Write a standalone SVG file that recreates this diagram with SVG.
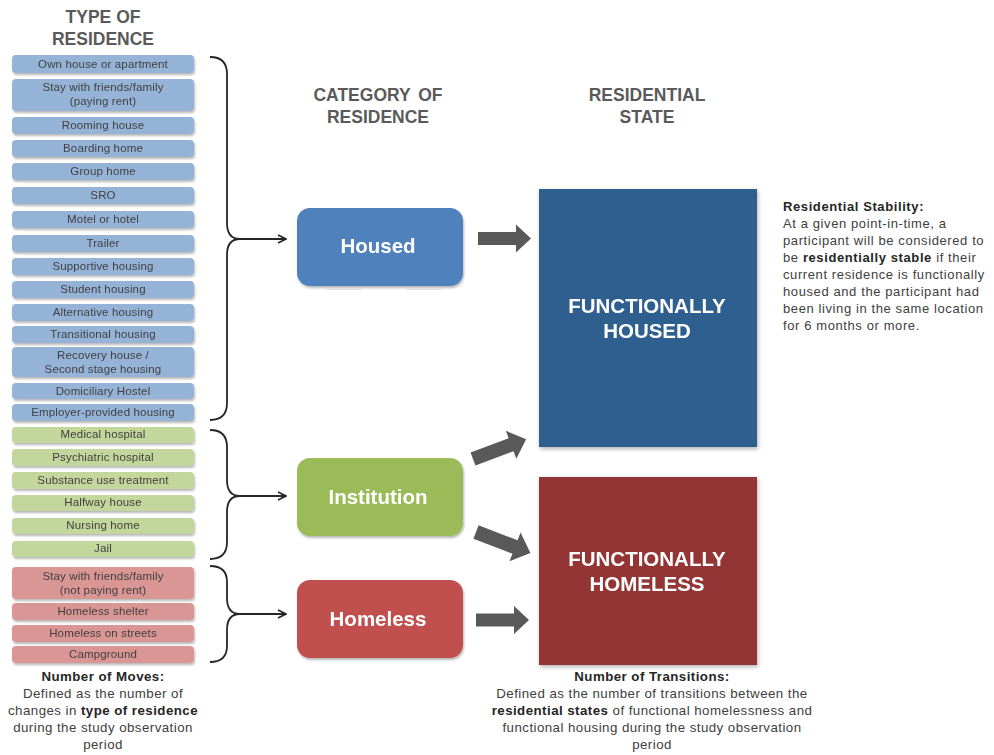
<svg xmlns="http://www.w3.org/2000/svg" width="994" height="755" viewBox="0 0 994 755">
  <style>
    .hdr { font-family: "Liberation Sans", Arial, sans-serif; font-size: 17.5px; font-weight: bold; fill: #5a5a5a; text-anchor: middle; }
    .item { font-family: "Liberation Sans", Arial, sans-serif; font-size: 11.5px; letter-spacing: 0.15px; fill: #3f3f3f; text-anchor: middle; }
    .blue { fill: #95b3d7; }
    .green { fill: #c3d69b; }
    .red { fill: #d99694; }
    .cat { font-family: "Liberation Sans", Arial, sans-serif; font-size: 20.5px; font-weight: bold; fill: #ffffff; text-anchor: middle; }
    .note { font-family: "Liberation Sans", Arial, sans-serif; font-size: 13.3px; letter-spacing: 0.45px; fill: #404040; }
    .b { font-weight: bold; fill: #262626; }
    .side { font-family: "Liberation Sans", Arial, sans-serif; font-size: 13px; letter-spacing: 0.6px; fill: #404040; }
    .brace { fill: none; stroke: #262626; stroke-width: 1.8; }
    .fat { fill: #595959; }
  </style>
  <defs>
    <filter id="sh" x="-10%" y="-10%" width="130%" height="140%">
      <feDropShadow dx="1" dy="2" stdDeviation="1.2" flood-color="#000" flood-opacity="0.28"/>
    </filter>
    <filter id="shBig" x="-10%" y="-10%" width="130%" height="130%">
      <feDropShadow dx="1" dy="2" stdDeviation="2" flood-color="#000" flood-opacity="0.3"/>
    </filter>
    <marker id="open" viewBox="0 0 10 10" refX="9" refY="5" markerWidth="10" markerHeight="10" markerUnits="userSpaceOnUse" orient="auto">
      <path d="M1,1 L9,5 L1,9" fill="none" stroke="#262626" stroke-width="1.6"/>
    </marker>
    <path id="fatArrow" d="M0,-6.5 L38,-6.5 L38,-14 L53,0 L38,14 L38,6.5 L0,6.5 Z"/>
  </defs>

  <rect width="994" height="755" fill="#ffffff"/>

  <!-- column headings -->
  <text class="hdr" x="103" y="23">TYPE OF</text>
  <text class="hdr" x="103" y="45">RESIDENCE</text>
  <text class="hdr" x="378" y="101" word-spacing="3">CATEGORY OF</text>
  <text class="hdr" x="378" y="123">RESIDENCE</text>
  <text class="hdr" x="647" y="101">RESIDENTIAL</text>
  <text class="hdr" x="647" y="123">STATE</text>

  <!-- types of residence -->
  <g id="types" filter="url(#sh)">
    <g id="t-own"><rect class="blue" x="12" y="55" width="182" height="18" rx="4"/><text class="item" x="103" y="68">Own house or apartment</text></g>
    <g id="t-friends-paying"><rect class="blue" x="12" y="79" width="182" height="32" rx="4"/><text class="item" x="103" y="91">Stay with friends/family</text><text class="item" x="103" y="105">(paying rent)</text></g>
    <g id="t-rooming"><rect class="blue" x="12" y="117" width="182" height="17" rx="4"/><text class="item" x="103" y="129">Rooming house</text></g>
    <g id="t-boarding"><rect class="blue" x="12" y="140" width="182" height="17" rx="4"/><text class="item" x="103" y="152">Boarding home</text></g>
    <g id="t-group"><rect class="blue" x="12" y="163" width="182" height="17" rx="4"/><text class="item" x="103" y="175">Group home</text></g>
    <g id="t-sro"><rect class="blue" x="12" y="187" width="182" height="17" rx="4"/><text class="item" x="103" y="199">SRO</text></g>
    <g id="t-motel"><rect class="blue" x="12" y="211" width="182" height="17" rx="4"/><text class="item" x="103" y="223">Motel or hotel</text></g>
    <g id="t-trailer"><rect class="blue" x="12" y="235" width="182" height="17" rx="4"/><text class="item" x="103" y="247">Trailer</text></g>
    <g id="t-supportive"><rect class="blue" x="12" y="258" width="182" height="17" rx="4"/><text class="item" x="103" y="270">Supportive housing</text></g>
    <g id="t-student"><rect class="blue" x="12" y="281" width="182" height="17" rx="4"/><text class="item" x="103" y="293">Student housing</text></g>
    <g id="t-alternative"><rect class="blue" x="12" y="304" width="182" height="17" rx="4"/><text class="item" x="103" y="316">Alternative housing</text></g>
    <g id="t-transitional"><rect class="blue" x="12" y="326" width="182" height="17" rx="4"/><text class="item" x="103" y="338">Transitional housing</text></g>
    <g id="t-recovery"><rect class="blue" x="12" y="347" width="182" height="30" rx="4"/><text class="item" x="103" y="359">Recovery house /</text><text class="item" x="103" y="373">Second stage housing</text></g>
    <g id="t-domiciliary"><rect class="blue" x="12" y="383" width="182" height="16" rx="4"/><text class="item" x="103" y="395">Domiciliary Hostel</text></g>
    <g id="t-employer"><rect class="blue" x="12" y="404" width="182" height="17" rx="4"/><text class="item" x="103" y="416">Employer-provided housing</text></g>

    <g id="t-medical"><rect class="green" x="12" y="427" width="182" height="16" rx="4"/><text class="item" x="103" y="438">Medical hospital</text></g>
    <g id="t-psychiatric"><rect class="green" x="12" y="449" width="182" height="17" rx="4"/><text class="item" x="103" y="461">Psychiatric hospital</text></g>
    <g id="t-substance"><rect class="green" x="12" y="472" width="182" height="17" rx="4"/><text class="item" x="103" y="484">Substance use treatment</text></g>
    <g id="t-halfway"><rect class="green" x="12" y="495" width="182" height="16" rx="4"/><text class="item" x="103" y="506">Halfway house</text></g>
    <g id="t-nursing"><rect class="green" x="12" y="518" width="182" height="16" rx="4"/><text class="item" x="103" y="529">Nursing home</text></g>
    <g id="t-jail"><rect class="green" x="12" y="541" width="182" height="16" rx="4"/><text class="item" x="103" y="552">Jail</text></g>

    <g id="t-friends-free"><rect class="red" x="12" y="567" width="182" height="32" rx="4"/><text class="item" x="103" y="580">Stay with friends/family</text><text class="item" x="103" y="594">(not paying rent)</text></g>
    <g id="t-shelter"><rect class="red" x="12" y="603" width="182" height="17" rx="4"/><text class="item" x="103" y="615">Homeless shelter</text></g>
    <g id="t-streets"><rect class="red" x="12" y="625" width="182" height="17" rx="4"/><text class="item" x="103" y="637">Homeless on streets</text></g>
    <g id="t-campground"><rect class="red" x="12" y="646" width="182" height="17" rx="4"/><text class="item" x="103" y="658">Campground</text></g>
  </g>

  <!-- categories -->
  <g id="housed" filter="url(#sh)">
    <rect x="297" y="208" width="166" height="78" rx="13" fill="#4f81bd"/>
    <text class="cat" x="378" y="253">Housed</text>
  </g>
  <rect x="327" y="288" width="36" height="2" fill="#e4e4e4"/>
  <rect x="405" y="288" width="36" height="2" fill="#e4e4e4"/>
  <g id="institution" filter="url(#sh)">
    <rect x="297" y="458" width="166" height="78" rx="13" fill="#9bbb59"/>
    <text class="cat" x="378" y="504">Institution</text>
  </g>
  <g id="homeless" filter="url(#sh)">
    <rect x="297" y="580" width="166" height="78" rx="13" fill="#c0504d"/>
    <text class="cat" x="378" y="626">Homeless</text>
  </g>

  <!-- residential states -->
  <g id="func-housed" filter="url(#shBig)">
    <rect x="539" y="189" width="218" height="258" fill="#2e5f8f"/>
    <text class="cat" x="647" y="313">FUNCTIONALLY</text>
    <text class="cat" x="647" y="338">HOUSED</text>
  </g>
  <g id="func-homeless" filter="url(#shBig)">
    <rect x="539" y="477" width="218" height="188" fill="#943634"/>
    <text class="cat" x="647" y="566">FUNCTIONALLY</text>
    <text class="cat" x="647" y="591">HOMELESS</text>
  </g>

  <!-- connectors -->
  <g id="connectors">
    <path class="brace" d="M210,57 Q227,57 227,74 L227,223 Q227,239 240,239 Q227,239 227,255 L227,403 Q227,420 210,420"/>
    <path class="brace" d="M240,239 L286,239" marker-end="url(#open)"/>
    <path class="brace" d="M210,430 Q227,430 227,447 L227,480 Q227,496 240,496 Q227,496 227,512 L227,542 Q227,559 210,559"/>
    <path class="brace" d="M240,496 L286,496" marker-end="url(#open)"/>
    <path class="brace" d="M210,566 Q227,566 227,582 L227,598 Q227,614 240,614 Q227,614 227,630 L227,646 Q227,662 210,662"/>
    <path class="brace" d="M240,614 L286,614" marker-end="url(#open)"/>

    <use href="#fatArrow" class="fat" transform="translate(478,238.5)"/>
    <use href="#fatArrow" class="fat" transform="translate(473,459) rotate(-20.5) scale(1.07)"/>
    <use href="#fatArrow" class="fat" transform="translate(476,532) rotate(21) scale(1.1)"/>
    <use href="#fatArrow" class="fat" transform="translate(476,620)"/>
  </g>

  <!-- side definition -->
  <text class="side" x="783" y="211"><tspan class="b">Residential  Stability:</tspan></text>
  <text class="side" x="783" y="228">At a given point-in-time, a</text>
  <text class="side" x="783" y="245">participant will be considered  to</text>
  <text class="side" x="783" y="262">be <tspan class="b">residentially  stable</tspan> if their</text>
  <text class="side" x="783" y="279">current  residence is functionally</text>
  <text class="side" x="783" y="296">housed and  the participant had</text>
  <text class="side" x="783" y="313">been living in the same location</text>
  <text class="side" x="783" y="330">for 6 months or more.</text>

  <!-- footnotes -->
  <g class="note" text-anchor="middle">
    <text x="103" y="681"><tspan class="b">Number  of Moves:</tspan></text>
    <text x="103" y="698">Defined as the number of</text>
    <text x="103" y="715">changes in <tspan class="b">type  of residence</tspan></text>
    <text x="103" y="732">during the study observation</text>
    <text x="103" y="749">period</text>

    <text x="652" y="681"><tspan class="b">Number  of Transitions:</tspan></text>
    <text x="652" y="698">Defined as the number  of transitions between the</text>
    <text x="652" y="715"><tspan class="b">residential  states</tspan>  of functional homelessness and</text>
    <text x="652" y="732">functional housing during the study observation</text>
    <text x="652" y="749">period</text>
  </g>
</svg>
